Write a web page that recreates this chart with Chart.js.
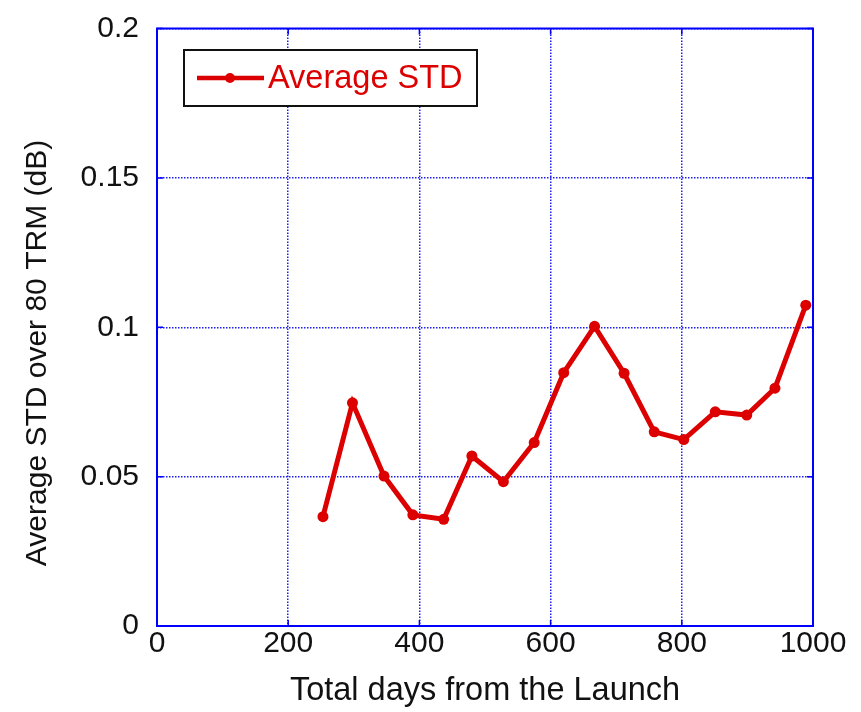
<!DOCTYPE html>
<html>
<head>
<meta charset="utf-8">
<script src="https://cdn.jsdelivr.net/npm/chart.js@4/dist/chart.umd.min.js"></script>
<style>
  html, body { margin: 0; padding: 0; background: #ffffff; }
  #wrap { width: 861px; height: 712px; }
</style>
</head>
<body>
<div id="wrap"><canvas id="c" width="861" height="712"></canvas></div>
<script>
// Days since launch and the mean standard deviation across the 80 TRMs
const days = [253, 298, 346, 390, 437, 480, 528, 575, 620, 667, 712, 758, 803, 851, 899, 942, 989];
const avgStd = [0.0366, 0.0747, 0.0502, 0.0372, 0.0357, 0.0569, 0.0483, 0.0614, 0.0848, 0.1003, 0.0846, 0.0650, 0.0624, 0.0717, 0.0706, 0.0796, 0.1074];

const xTickLabels = ['0', '200', '400', '600', '800', '1000'];
const yTickLabels = ['0', '0.05', '0.1', '0.15', '0.2'];

const seriesName = 'Average STD';
const xTitle = 'Total days from the Launch';
const yTitle = 'Average STD over 80 TRM (dB)';

const RED = '#dc0000';
const BLUE = '#0000ff';
const FONT = '"Liberation Sans", Arial, Helvetica, sans-serif';

const points = days.map((d, i) => ({ x: d, y: avgStd[i] }));

// Box frame, inward tick marks, rotated y title and the framed legend
const framePlugin = {
  id: 'frame',
  afterDraw(chart) {
    const { ctx, chartArea: a, scales } = chart;
    ctx.save();
    // inward tick marks
    ctx.strokeStyle = BLUE;
    ctx.lineWidth = 1.5;
    const tl = 6;
    scales.x.ticks.forEach(t => {
      const px = scales.x.getPixelForValue(t.value);
      ctx.beginPath();
      ctx.moveTo(px, a.bottom); ctx.lineTo(px, a.bottom - tl);
      ctx.moveTo(px, a.top); ctx.lineTo(px, a.top + tl);
      ctx.stroke();
    });
    scales.y.ticks.forEach(t => {
      const py = scales.y.getPixelForValue(t.value);
      ctx.beginPath();
      ctx.moveTo(a.left, py); ctx.lineTo(a.left + tl, py);
      ctx.moveTo(a.right, py); ctx.lineTo(a.right - tl, py);
      ctx.stroke();
    });
    // frame
    ctx.lineWidth = 2;
    ctx.strokeRect(a.left, a.top, a.right - a.left, a.bottom - a.top);

    // y axis title
    ctx.fillStyle = '#111111';
    ctx.font = '30px ' + FONT;
    ctx.textAlign = 'center';
    ctx.textBaseline = 'middle';
    ctx.translate(38, 353);
    ctx.rotate(-Math.PI / 2);
    ctx.fillText(yTitle, 0, 0);
    ctx.restore();

    // legend
    ctx.save();
    const lx = 184, ly = 50, lw = 293, lh = 56;
    ctx.fillStyle = '#ffffff';
    ctx.fillRect(lx, ly, lw, lh);
    ctx.strokeStyle = '#111111';
    ctx.lineWidth = 2;
    ctx.strokeRect(lx, ly, lw, lh);
    const cy = ly + lh / 2;
    ctx.strokeStyle = RED;
    ctx.lineWidth = 4.5;
    ctx.beginPath();
    ctx.moveTo(197, cy); ctx.lineTo(264, cy);
    ctx.stroke();
    ctx.fillStyle = RED;
    ctx.beginPath();
    ctx.arc(230, cy, 5, 0, Math.PI * 2);
    ctx.fill();
    ctx.font = '32.5px ' + FONT;
    ctx.textAlign = 'left';
    ctx.textBaseline = 'middle';
    ctx.fillText(seriesName, 268, cy + 1);
    ctx.restore();
  }
};

new Chart(document.getElementById('c'), {
  type: 'scatter',
  data: {
    datasets: [{
      label: seriesName,
      data: points,
      showLine: true,
      borderColor: RED,
      backgroundColor: RED,
      borderWidth: 5,
      pointRadius: 5.5,
      pointHoverRadius: 5.5,
      pointBorderWidth: 0,
      tension: 0
    }]
  },
  options: {
    responsive: false,
    animation: false,
    events: [],
    layout: { padding: { left: 0, right: 48, top: 28.5, bottom: 0 } },
    plugins: { legend: { display: false }, tooltip: { enabled: false } },
    scales: {
      x: {
        type: 'linear',
        min: 0, max: 1000,
        afterFit(s) { s.height = 86; },
        ticks: {
          stepSize: 200,
          padding: 0,
          color: '#111111',
          font: { family: FONT, size: 30 },
          maxRotation: 0,
          callback: (v, i) => xTickLabels[i]
        },
        grid: { color: '#1f1ff0', lineWidth: 1.5, drawTicks: false },
        border: { display: false, dash: [1.5, 1.5] },
        title: {
          display: true,
          text: xTitle,
          color: '#111111',
          font: { family: FONT, size: 32.5 },
          padding: { top: 0, bottom: 1 }
        }
      },
      y: {
        type: 'linear',
        min: 0, max: 0.2,
        afterFit(s) { s.width = 157; },
        ticks: {
          stepSize: 0.05,
          padding: 18,
          color: '#111111',
          font: { family: FONT, size: 30, lineHeight: 0.6 },
          callback: (v, i) => yTickLabels[i]
        },
        grid: { color: '#1f1ff0', lineWidth: 1.5, drawTicks: false },
        border: { display: false, dash: [1.5, 1.5] }
      }
    }
  },
  plugins: [framePlugin]
});
</script>
</body>
</html>
